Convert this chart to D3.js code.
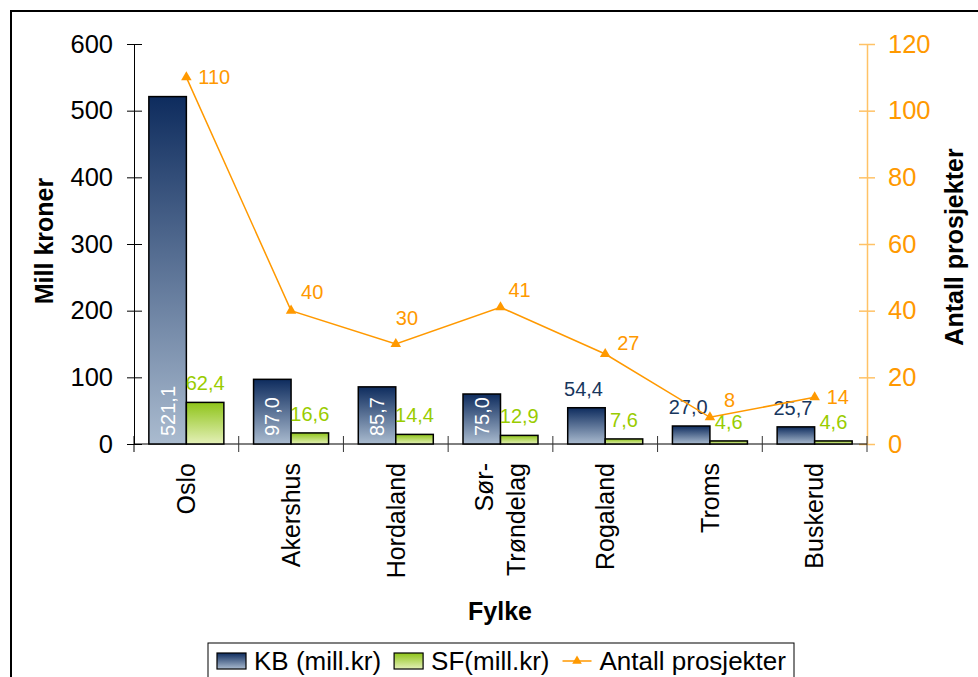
<!DOCTYPE html>
<html>
<head>
<meta charset="utf-8">
<script src="https://cdn.jsdelivr.net/npm/d3@7"></script>
<style>
  body { margin: 0; background: #fff; }
  svg { font-family: "Liberation Sans", Arial, sans-serif; display: block; }
</style>
</head>
<body>
<div class="canvas"></div>
<script>
/**
 * Data
 */
const fylker = ["Oslo", "Akershus", "Hordaland", "Sør-Trøndelag", "Rogaland", "Troms", "Buskerud"]
const kb = [521.1, 97.0, 85.7, 75.0, 54.4, 27.0, 25.7]
const sf = [62.4, 16.6, 14.4, 12.9, 7.6, 4.6, 4.6]
const prosjekter = [110, 40, 30, 41, 27, 8, 14]
const leftTicks = [0, 100, 200, 300, 400, 500, 600]
const rightTicks = [0, 20, 40, 60, 80, 100, 120]
const seriesNames = ["KB (mill.kr)", "SF(mill.kr)", "Antall prosjekter"]

// label nudges for the line labels (dx, dy) as placed in the original
const lineLabelOffsets = [[12, 0], [10, -19], [0, -26], [8, -17], [12, -11], [14, -17], [12, 0]]

/**
 * Dimensions
 */
const W = 978, H = 677
const plot = { left: 134, right: 867, top: 44, bottom: 444 }
const orange = "#ff9900"

const svg = d3.select(".canvas")
    .append("svg")
    .attr("width", W)
    .attr("height", H)

// outer chart border (right and bottom edges fall outside the picture)
svg.append("rect")
    .attr("x", 11).attr("y", 11)
    .attr("width", 1000).attr("height", 700)
    .attr("fill", "#fff")
    .attr("stroke", "#000")
    .attr("stroke-width", 2)

// gradients
const defs = svg.append("defs")
const grad = (id, top, bottom) => {
    const g = defs.append("linearGradient").attr("id", id)
        .attr("x1", 0).attr("y1", 0).attr("x2", 0).attr("y2", 1)
    g.append("stop").attr("offset", "0%").attr("stop-color", top)
    g.append("stop").attr("offset", "100%").attr("stop-color", bottom)
}
grad("gKB", "#0e2c5e", "#aabbcf")
grad("gSF", "#8fc41a", "#e4f0b8")

/**
 * Scales
 */
const x0 = d3.scaleBand()
    .domain(fylker)
    .range([plot.left, plot.right])
    .paddingInner(0.2837)
    .paddingOuter(0.2837 / 2)

const x1 = d3.scaleBand()
    .domain(["kb", "sf"])
    .range([0, x0.bandwidth()])

const yL = d3.scaleLinear().domain([0, 600]).range([plot.bottom, plot.top])
const yR = d3.scaleLinear().domain([0, 120]).range([plot.bottom, plot.top])

const step = x0.step()

/**
 * Axes
 */
const leftAxis = svg.append("g")
    .attr("transform", `translate(${plot.left},0)`)
    .call(d3.axisLeft(yL).tickValues(leftTicks).tickSizeInner(7).tickSizeOuter(0).tickPadding(14))
leftAxis.select(".domain").attr("stroke", "#000")
leftAxis.selectAll(".tick line").attr("x2", -7).attr("x1", 8).attr("stroke", "#000")
leftAxis.selectAll(".tick text")
    .attr("x", -21)
    .attr("font-size", 25.5)
    .attr("font-family", "Liberation Sans, Arial, sans-serif")
    .attr("fill", "#000")

const rightAxis = svg.append("g")
    .attr("transform", `translate(${plot.right},0)`)
    .call(d3.axisRight(yR).tickValues(rightTicks).tickSizeOuter(0))
rightAxis.select(".domain").attr("stroke", "#ffc266").attr("stroke-width", 1.5)
rightAxis.selectAll(".tick line").attr("x1", -8).attr("x2", 8).attr("stroke", "#ffc266").attr("stroke-width", 1.5)
rightAxis.selectAll(".tick text")
    .attr("x", 21)
    .attr("font-size", 25.5)
    .attr("font-family", "Liberation Sans, Arial, sans-serif")
    .attr("fill", orange)

// x axis: line with category boundary ticks
const xAxis = svg.append("g")
xAxis.append("line")
    .attr("x1", plot.left).attr("x2", plot.right)
    .attr("y1", plot.bottom).attr("y2", plot.bottom)
    .attr("stroke", "#000")
xAxis.selectAll(".ctick")
    .data(fylker.concat(["__end"]))
    .enter()
    .append("line")
    .attr("x1", (d, i) => plot.left + i * step)
    .attr("x2", (d, i) => plot.left + i * step)
    .attr("y1", plot.bottom - 8)
    .attr("y2", plot.bottom + 8)
    .attr("stroke", (d, i) => i === 0 ? "#000" : "#333")

// category labels, rotated
const catLabels = xAxis.selectAll(".cat")
    .data(fylker)
    .enter()
    .append("g")
    .attr("class", "cat")
    .attr("transform", d => `translate(${x0(d) + x0.bandwidth() / 2},463) rotate(-90)`)

catLabels.each(function (d) {
    const g = d3.select(this)
    const parts = d.includes("-") ? [d.slice(0, d.indexOf("-") + 1), d.slice(d.indexOf("-") + 1)] : [d]
    const off = parts.length > 1 ? [-16, 16] : [0]
    parts.forEach((p, i) => {
        g.append("text")
            .attr("text-anchor", "end")
            .attr("y", off[i])
            .attr("dy", "0.35em")
            .attr("font-size", 25)
            .text(p)
    })
})

/**
 * Axis titles
 */
svg.append("text")
    .attr("transform", "translate(53,241) rotate(-90)")
    .attr("text-anchor", "middle")
    .attr("font-size", 25)
    .attr("font-weight", "bold")
    .text("Mill kroner")

svg.append("text")
    .attr("transform", "translate(963,247) rotate(-90)")
    .attr("text-anchor", "middle")
    .attr("font-size", 25)
    .attr("font-weight", "bold")
    .text("Antall prosjekter")

svg.append("text")
    .attr("x", 500).attr("y", 620)
    .attr("text-anchor", "middle")
    .attr("font-size", 25)
    .attr("font-weight", "bold")
    .text("Fylke")

/**
 * Bars
 */
const rows = fylker.map((f, i) => ({ fylke: f, kb: kb[i], sf: sf[i], n: prosjekter[i], i }))

const groups = svg.append("g").selectAll(".grp")
    .data(rows)
    .enter()
    .append("g")
    .attr("transform", d => `translate(${x0(d.fylke)},0)`)

groups.append("rect")
    .attr("x", x1("kb"))
    .attr("width", x1.bandwidth())
    .attr("y", d => yL(d.kb))
    .attr("height", d => plot.bottom - yL(d.kb))
    .attr("fill", "url(#gKB)")
    .attr("stroke", "#000")
    .attr("stroke-width", 1.5)

groups.append("rect")
    .attr("x", x1("sf"))
    .attr("width", x1.bandwidth())
    .attr("y", d => yL(d.sf))
    .attr("height", d => plot.bottom - yL(d.sf))
    .attr("fill", "url(#gSF)")
    .attr("stroke", "#000")
    .attr("stroke-width", 1.5)

const fmt = v => v.toFixed(1).replace(".", ",")

// KB labels: inside base (rotated, white) when they fit, otherwise above the bar
groups.each(function (d) {
    const g = d3.select(this)
    const cx = x1("kb") + x1.bandwidth() / 2
    const h = plot.bottom - yL(d.kb)
    if (h > 45) {
        g.append("text")
            .attr("transform", `translate(${cx},${plot.bottom - 8}) rotate(-90)`)
            .attr("dy", "0.35em")
            .attr("font-size", 20)
            .attr("fill", "#fff")
            .text(fmt(d.kb))
    } else {
        g.append("text")
            .attr("x", cx - 3)
            .attr("y", yL(d.kb) - 12)
            .attr("text-anchor", "middle")
            .attr("font-size", 20)
            .attr("fill", "#17365d")
            .text(fmt(d.kb))
    }
})

groups.append("text")
    .attr("x", x1("sf") + x1.bandwidth() / 2)
    .attr("y", d => yL(d.sf) - 12)
    .attr("text-anchor", "middle")
    .attr("font-size", 20)
    .attr("fill", "#99cc00")
    .text(d => fmt(d.sf))

/**
 * Line (right axis)
 */
const cxOf = d => x0(d.fylke) + x0.bandwidth() / 2

svg.append("path")
    .datum(rows)
    .attr("fill", "none")
    .attr("stroke", orange)
    .attr("stroke-width", 1.5)
    .attr("d", d3.line().x(cxOf).y(d => yR(d.n)))

svg.append("g").selectAll(".mk")
    .data(rows)
    .enter()
    .append("path")
    .attr("transform", d => `translate(${cxOf(d)},${yR(d.n)})`)
    .attr("d", d3.symbol().type(d3.symbolTriangle).size(48))
    .attr("fill", orange)

svg.append("g").selectAll(".ll")
    .data(rows)
    .enter()
    .append("text")
    .attr("x", d => cxOf(d) + lineLabelOffsets[d.i][0])
    .attr("y", d => yR(d.n) + lineLabelOffsets[d.i][1])
    .attr("dy", "0.35em")
    .attr("font-size", 20)
    .attr("fill", orange)
    .text(d => d.n)

/**
 * Legend
 */
const legend = svg.append("g")
legend.append("rect")
    .attr("x", 208).attr("y", 643)
    .attr("width", 586).attr("height", 60)
    .attr("fill", "#fff")
    .attr("stroke", "#000")
    .attr("stroke-width", 1)

let lx = 217
const ly = 661
seriesNames.forEach((name, i) => {
    if (i < 2) {
        legend.append("rect")
            .attr("x", lx).attr("y", ly - 8)
            .attr("width", 29).attr("height", 16)
            .attr("fill", i === 0 ? "url(#gKB)" : "url(#gSF)")
            .attr("stroke", "#000")
            .attr("stroke-width", 1.2)
    } else {
        legend.append("line")
            .attr("x1", lx).attr("x2", lx + 29)
            .attr("y1", ly).attr("y2", ly)
            .attr("stroke", orange).attr("stroke-width", 1.5)
        legend.append("path")
            .attr("transform", `translate(${lx + 14.5},${ly})`)
            .attr("d", d3.symbol().type(d3.symbolTriangle).size(40))
            .attr("fill", orange)
    }
    const t = legend.append("text")
        .attr("x", lx + 37).attr("y", ly)
        .attr("dy", "0.35em")
        .attr("font-size", 26)
        .text(name)
    lx += 37 + t.node().getComputedTextLength() + 13
})
</script>
</body>
</html>
